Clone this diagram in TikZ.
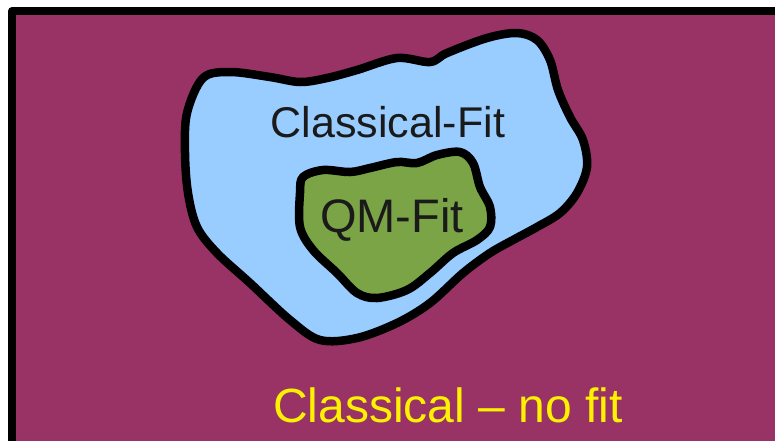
\documentclass[tikz,border=0pt]{standalone}
\usepackage{fontspec}
\setmainfont{Liberation Sans}
\definecolor{fondo}{RGB}{153,51,102}
\definecolor{azul}{RGB}{153,204,255}
\definecolor{verde}{RGB}{122,164,70}
\definecolor{tinta}{RGB}{26,26,26}
\begin{document}
\begin{tikzpicture}[x=1pt, y=-1pt, line join=round, line cap=round,
  region/.style={draw=black, line width=8.5pt},
  rotulo/.style={anchor=base, inner sep=0pt, text=tinta}]
  \useasboundingbox (0,0) rectangle (775,440);
  \clip (0,0) rectangle (775,440);
  % el fondo
  \filldraw[fill=fondo, line width=8pt] (12,11) rectangle (800,470);
  % la region clasica
  \filldraw[region, fill=azul] plot[smooth cycle, tension=0.55] coordinates {
    (203,78) (230,72) (270,77) (300,82) (327,78) (357,70) (397,58) (430,62)
    (447,53) (487,38) (517,33) (537,40) (550,60) (558,90) (570,117) (583,140)
    (587,167) (577,193) (560,213) (537,227) (513,240) (490,253) (463,273)
    (430,303) (397,323) (357,338) (320,340) (290,320) (250,283) (217,253)
    (197,227) (188,193) (185,153) (187,113)};
  % la region cuantica
  \filldraw[region, fill=verde] plot[smooth cycle, tension=0.55] coordinates {
    (303,177) (323,170) (350,172) (370,168) (397,162) (417,163) (437,155)
    (460,152) (473,163) (480,187) (490,207) (490,227) (477,240) (453,253)
    (430,273) (407,290) (377,298) (357,293) (337,273) (313,250) (300,227)
    (300,193)};
  % los rotulos
  \node[rotulo, font=\fontsize{43}{49}\selectfont] (clasico) at (388,137) {Classical-Fit};
  \node[rotulo, font=\fontsize{47}{53}\selectfont] (cuantico) at (392,232) {QM-Fit};
  \node[rotulo, text=yellow, font=\fontsize{48}{55}\selectfont] (nofit) at (448,422) {Classical – no fit};
\end{tikzpicture}
\end{document}
